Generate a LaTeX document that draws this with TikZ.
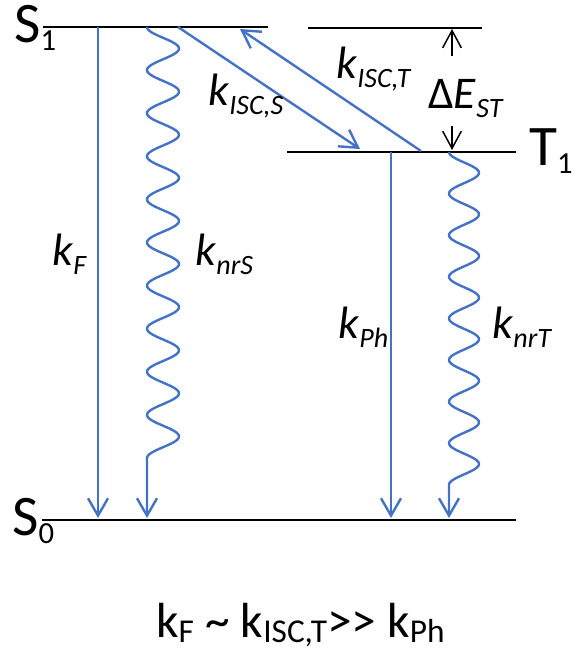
\documentclass[tikz,border=0pt]{standalone}
\usepackage{fontspec}
\setmainfont{Carlito}
\usetikzlibrary{arrows.meta}
\definecolor{rateblue}{HTML}{4472C4}

\newcommand{\lvl}[2]{#1\raisebox{-6pt}{\fontsize{23}{24}\selectfont #2}}
\newcommand{\rk}[1]{\textit{k}\raisebox{-7pt}{\fontsize{21}{22}\selectfont\textit{#1}}}
\newcommand{\bk}[1]{k\raisebox{-4pt}{\fontsize{25}{26}\selectfont #1}}

\begin{document}
\begin{tikzpicture}[x=0.75pt, y=-0.75pt,
  level/.style={line width=2.2pt},
  rate/.style={draw=rateblue, line width=1.8pt, -{Straight Barb[length=13pt,width=15pt]}},
  gap/.style={line width=1.1pt, -{Straight Barb[length=13pt,width=14pt]}},
  lbl/.style={anchor=base west, inner sep=0pt, font=\fontsize{34}{36}\selectfont},
  lvllbl/.style={anchor=base west, inner sep=0pt, font=\fontsize{43}{46}\selectfont}]
  \useasboundingbox (0,0) rectangle (578,664);
  % levels
  \coordinate (S1a) at (43,27);  \coordinate (S1b) at (268,27);
  \coordinate (Sa) at (308,28);  \coordinate (Sb) at (482,28);
  \coordinate (T1a) at (287,152); \coordinate (T1b) at (516,152);
  \coordinate (S0a) at (42,520); \coordinate (S0b) at (516,520);
  \draw[level] (S1a) -- (S1b);
  \draw[level, line width=1.7pt] (Sa) -- (Sb);
  \draw[level] (T1a) -- (T1b);
  \draw[level] (S0a) -- (S0b);
  \node[lvllbl] (s1) at (14,42) {\lvl{S}{1}};
  \node[lvllbl] (t1) at (529,165) {\lvl{T}{1}};
  \node[lvllbl] (s0) at (12,535) {\lvl{S}{0}};
  % radiative
  \coordinate (Ftop) at (98,27);  \coordinate (Fbot) at (98,518);
  \coordinate (Phtop) at (391,152); \coordinate (Phbot) at (391,518);
  \draw[rate] (Ftop) -- (Fbot);
  \draw[rate] (Phtop) -- (Phbot);
  % non-radiative
  \coordinate (nrSbot) at (147,518);
  \coordinate (nrTbot) at (449,518);
  \draw[rate] plot[domain=0:10, samples=301] ({163-16*cos(360*\x)}, {27+43.1*\x}) -- (nrSbot);
  \draw[rate] plot[domain=0:8, samples=241] ({464-15*cos(360*\x)}, {152+41.6*\x}) -- (nrTbot);
  % intersystem crossing
  \coordinate (iscSa) at (178,27);  \coordinate (iscSb) at (360,149);
  \coordinate (iscTa) at (421,151); \coordinate (iscTb) at (240,29);
  \draw[rate] (iscSa) -- (iscSb);
  \draw[rate] (iscTa) -- (iscTb);
  % gap
  \coordinate (gtop) at (452,29);  \coordinate (gtopa) at (452,56);
  \coordinate (gbot) at (452,150); \coordinate (gbota) at (452,126);
  \draw[gap] (gtopa) -- (gtop);
  \draw[gap] (gbota) -- (gbot);
  % labels
  \node[lbl] (kF) at (52,265) {\rk{F}};
  \node[lbl] (knrS) at (195,265) {\rk{nrS}};
  \node[lbl] (kPh) at (338,338) {\rk{Ph}};
  \node[lbl] (knrT) at (492,338) {\rk{nrT}};
  \node[lbl] (kiscS) at (208,105) {\rk{ISC,S}};
  \node[lbl] (kiscT) at (336,78) {\rk{ISC,T}};
  \node[lbl] (dE) at (428,108) {Δ\textit{E}\raisebox{-7pt}{\fontsize{21}{22}\selectfont\textit{ST}}};
  \node[lbl, font=\fontsize{37}{40}\selectfont] (rel) at (156,637) {\bk{F} \textasciitilde{} \bk{ISC,T}>{}> \bk{Ph}};
\end{tikzpicture}
\end{document}
